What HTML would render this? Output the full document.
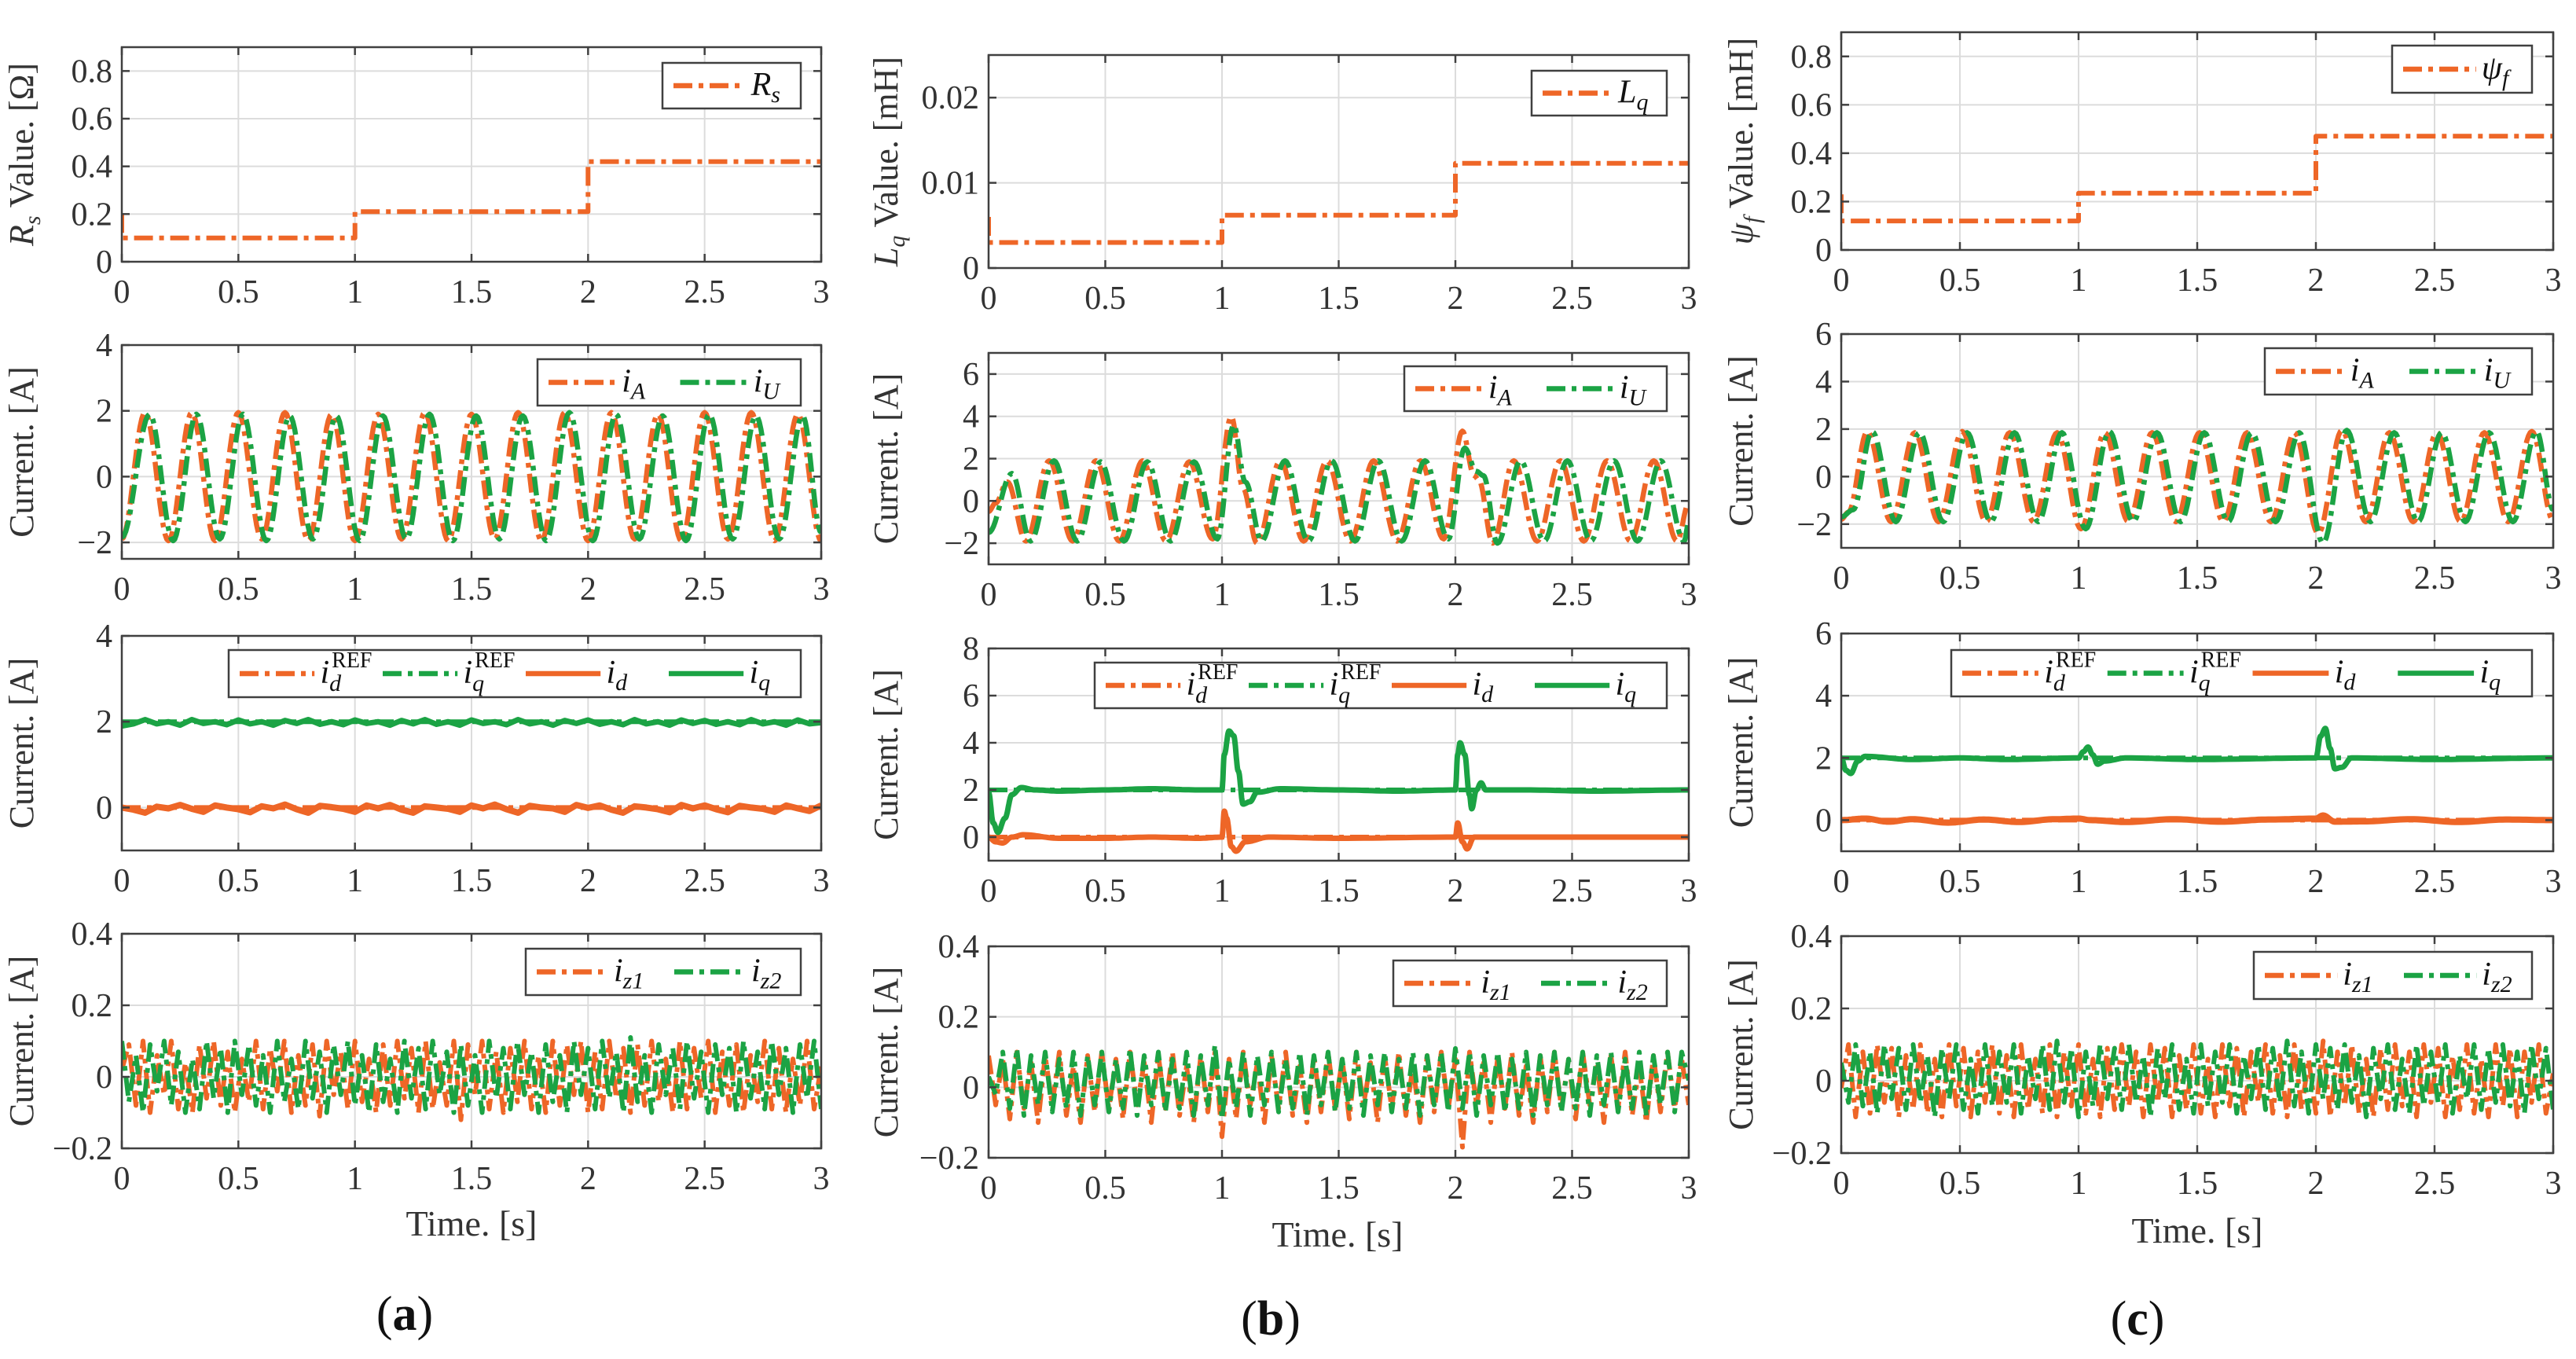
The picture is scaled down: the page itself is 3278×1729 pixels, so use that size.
<!DOCTYPE html>
<html><head><meta charset="utf-8"><style>
html,body{margin:0;padding:0;background:#fff;}
svg{display:block;font-family:"Liberation Serif",serif;}
</style></head><body>
<svg id="fig" width="3278" height="1729" viewBox="0 0 3278 1729"></svg>
<script>
// ---------- DATA ----------
const xTicks=[0,0.5,1,1.5,2,2.5,3];
const xTickLabels=["0","0.5","1","1.5","2","2.5","3"];
// parameter steps
const stepT=[0,0,0.002,1,1,2,2,3];
const rsV=[0.2,0.1,0.1,0.1,0.21,0.21,0.42,0.42];
const lqV=[0.006,0.003,0.003,0.003,0.0062,0.0062,0.0123,0.0123];
const psiV=[0.23,0.12,0.12,0.12,0.235,0.235,0.47,0.47];
// phase currents (extrema keypoints)
const a2AT=[0,0.1,0.2,0.3,0.4,0.5,0.6,0.7,0.8,0.9,1.0,1.1,1.2,1.3,1.4,1.5,1.6,1.7,1.8,1.9,2.0,2.1,2.2,2.3,2.4,2.5,2.6,2.7,2.8,2.9,3.0];
const a2AV=[-1.9,1.95,-1.95,1.95,-1.95,1.95,-1.9,1.95,-1.95,1.9,-1.95,1.9,-1.9,1.95,-1.95,1.9,-1.9,1.95,-1.95,1.95,-1.95,1.95,-1.9,1.9,-1.95,1.95,-1.9,1.95,-1.95,1.9,-1.95];
const a2UT=[0,0.12,0.22,0.32,0.42,0.52,0.62,0.72,0.82,0.92,1.02,1.12,1.22,1.32,1.42,1.52,1.62,1.72,1.82,1.92,2.02,2.12,2.22,2.32,2.42,2.52,2.62,2.72,2.82,2.92,3.0];
const a2UV=[-1.85,1.9,-1.95,1.9,-1.9,1.9,-1.95,1.85,-1.9,1.85,-1.95,1.85,-1.9,1.9,-1.95,1.85,-1.9,1.85,-1.95,1.95,-1.95,1.9,-1.9,1.85,-1.95,1.9,-1.9,1.85,-1.9,1.85,-1.7];
const b2AT=[0,0.03,0.08,0.16,0.26,0.36,0.46,0.56,0.66,0.76,0.86,0.96,1.04,1.09,1.15,1.25,1.35,1.45,1.55,1.65,1.75,1.85,1.95,2.03,2.08,2.1,2.16,2.25,2.35,2.45,2.55,2.65,2.75,2.85,2.95,3.0];
const b2AV=[-0.5,-0.1,0.9,-1.9,1.9,-1.9,1.9,-1.9,1.9,-1.9,1.85,-1.8,4.0,0.6,-2.0,1.9,-1.9,1.9,-1.9,1.9,-1.9,1.9,-1.8,3.3,1.2,1.0,-2.0,1.9,-1.9,1.9,-1.9,1.9,-1.9,1.9,-1.9,-0.1];
const b2UT=[0,0.1,0.18,0.28,0.38,0.48,0.58,0.68,0.78,0.88,0.98,1.05,1.1,1.17,1.27,1.37,1.47,1.57,1.67,1.77,1.87,1.97,2.04,2.09,2.12,2.18,2.28,2.38,2.48,2.58,2.68,2.78,2.88,2.98,3.0];
const b2UV=[-1.5,1.3,-1.9,1.9,-1.9,1.85,-1.9,1.85,-1.9,1.85,-1.8,3.6,0.9,-1.9,1.9,-1.9,1.9,-1.9,1.9,-1.9,1.9,-1.8,2.5,1.4,1.2,-2.0,1.9,-1.9,1.9,-1.9,1.9,-1.9,1.9,-1.9,-1.0];
const c2AT=[0,0.03,0.11,0.21,0.31,0.41,0.51,0.61,0.71,0.81,0.91,1.01,1.11,1.21,1.31,1.41,1.51,1.61,1.71,1.81,1.91,2.01,2.11,2.21,2.31,2.41,2.51,2.61,2.71,2.81,2.91,3.0];
const c2AV=[-1.8,-1.5,1.9,-1.9,1.85,-1.9,1.9,-1.9,1.85,-1.9,1.85,-2.2,1.85,-1.9,1.85,-1.9,1.85,-1.9,1.85,-1.9,1.85,-2.4,1.95,-1.9,1.85,-1.9,1.85,-1.9,1.85,-1.9,1.9,-1.85];
const c2UT=[0,0.05,0.13,0.23,0.33,0.43,0.53,0.63,0.73,0.83,0.93,1.03,1.13,1.23,1.33,1.43,1.53,1.63,1.73,1.83,1.93,2.03,2.13,2.23,2.33,2.43,2.53,2.63,2.73,2.83,2.93,3.0];
const c2UV=[-1.7,-1.4,1.9,-1.9,1.85,-1.9,1.85,-1.9,1.85,-1.9,1.85,-2.2,1.9,-1.9,1.85,-1.9,1.85,-1.9,1.85,-1.9,1.85,-2.8,1.95,-1.9,1.85,-1.9,1.85,-1.9,1.85,-1.9,1.9,-1.4];
// dq currents
const a3IqV=[1.9,1.95,2.05,1.95,2.0,1.92,2.05,1.96,2.0,1.93,2.04,1.95,2.0,1.92,2.03,1.96,2.05,1.94,2.0,1.93,2.04,1.96,2.0,1.92,2.03,1.95,2.05,1.94,2.0,1.92,2.04,1.96,2.0,1.93,2.05,1.95,2.0,1.92,2.03,1.96,2.04,1.94,2.0,1.93,2.05,1.95,2.0,1.92,2.04,1.96,2.03,1.94,2.0,1.93,2.05,1.95,2.0,1.92,2.04,1.95,1.98];
const a3IdV=[0.0,-0.05,-0.12,0.02,-0.02,0.06,-0.03,-0.1,0.05,0.0,-0.04,-0.11,0.03,-0.02,0.07,-0.04,-0.12,0.04,0.01,-0.03,-0.1,0.05,-0.02,0.06,-0.05,-0.12,0.03,0.0,-0.03,-0.1,0.05,-0.02,0.07,-0.04,-0.12,0.04,0.0,-0.02,-0.1,0.06,-0.01,0.05,-0.05,-0.12,0.03,0.0,-0.04,-0.11,0.06,-0.02,0.05,-0.04,-0.11,0.04,0.0,-0.03,-0.1,0.05,-0.02,-0.08,0.05];
const b3IqT=[0,0.02,0.04,0.07,0.1,0.14,0.2,0.3,0.5,0.7,0.9,1.0,1.01,1.03,1.05,1.07,1.09,1.12,1.15,1.25,1.5,1.75,2.0,2.01,2.02,2.04,2.06,2.07,2.09,2.11,2.13,2.3,2.6,3.0];
const b3IqV=[1.9,0.6,0.2,0.8,1.8,2.1,2.0,1.95,2.0,2.05,2.0,2.0,3.5,4.5,4.3,2.8,1.4,1.5,1.9,2.05,2.0,1.95,2.0,3.5,4.0,3.5,1.8,1.2,2.0,2.3,2.0,2.0,1.95,2.0];
const b3IdT=[0,0.03,0.06,0.1,0.15,0.3,0.5,0.7,0.9,1.0,1.01,1.02,1.04,1.06,1.1,1.2,1.5,2.0,2.01,2.03,2.05,2.08,2.3,2.6,3.0];
const b3IdV=[0,-0.2,-0.25,0,0.1,-0.05,-0.05,0,-0.05,0,1.1,0.8,-0.4,-0.6,-0.2,0,-0.05,0,0.6,-0.2,-0.5,0,0,0,0];
const c3IqT=[0,0.02,0.04,0.07,0.1,0.3,0.5,0.7,1.0,1.02,1.04,1.06,1.08,1.11,1.2,1.5,2.0,2.02,2.04,2.06,2.08,2.11,2.15,2.5,3.0];
const c3IqV=[2.0,1.6,1.5,1.9,2.05,1.95,2.0,1.95,2.0,2.2,2.35,2.1,1.8,1.9,2.0,1.95,2.0,2.7,2.95,2.3,1.65,1.7,2.0,1.95,2.0];
const c3IdT=[0,0.1,0.2,0.3,0.45,0.6,0.75,0.9,1.0,1.05,1.2,1.4,1.6,1.8,2.0,2.03,2.08,2.2,2.4,2.6,2.8,3.0];
const c3IdV=[0,0.05,-0.05,0.03,-0.08,0.02,-0.06,0.03,0.05,0.0,-0.06,0.03,-0.05,0.02,0.05,0.15,-0.05,-0.04,0.03,-0.06,0.02,0.0];
// zero-sequence currents (noisy)
const a4Z1=[0.02,0.09,-0.08,0.1,-0.1,0.06,-0.05,0.1,-0.09,0.04,-0.1,0.09,-0.06,0.1,-0.08,0.07,-0.1,0.05,-0.07,0.1,-0.09,0.08,-0.04,0.1,-0.1,0.06,-0.08,0.09,-0.11,0.1,-0.05,0.07,-0.09,0.1,-0.07,0.05,-0.1,0.09,-0.08,0.1,-0.06,0.08,-0.1,0.1,-0.09,0.04,-0.08,0.1,-0.12,0.09,-0.05,0.1,-0.09,0.07,-0.1,0.08,-0.07,0.1,-0.09,0.06,-0.1,0.1,-0.08,0.09,-0.05,0.1,-0.1,0.07,-0.09,0.1,-0.06,0.08,-0.1,0.09,-0.08,0.1,-0.07,0.05,-0.1,0.1,-0.09,0.08,-0.06,0.1,-0.1,0.07,-0.08,0.09,-0.1,0.06,-0.07,0.1,-0.09,0.08,-0.1,0.05,-0.08,0.1,-0.09,0.03];
const a4Z2=[0.1,-0.07,0.06,-0.1,0.09,-0.04,0.1,-0.08,0.07,-0.1,0.05,-0.09,0.1,-0.06,0.08,-0.1,0.1,-0.05,0.09,-0.08,0.06,-0.1,0.1,-0.07,0.05,-0.09,0.1,-0.06,0.07,-0.1,0.09,-0.05,0.1,-0.08,0.06,-0.1,0.09,-0.07,0.05,-0.1,0.1,-0.06,0.08,-0.09,0.1,-0.05,0.07,-0.1,0.09,-0.08,0.06,-0.1,0.1,-0.06,0.08,-0.09,0.1,-0.05,0.07,-0.1,0.09,-0.07,0.06,-0.1,0.1,-0.05,0.08,-0.09,0.1,-0.06,0.07,-0.1,0.11,-0.07,0.06,-0.1,0.09,-0.05,0.08,-0.09,0.1,-0.06,0.07,-0.1,0.09,-0.05,0.08,-0.1,0.1,-0.06,0.07,-0.09,0.1,-0.05,0.08,-0.1,0.09,-0.06,0.1,-0.09];
const b4Z1=[0.09,-0.05,0.08,-0.09,0.1,-0.06,0.07,-0.1,0.09,-0.05,0.1,-0.08,0.06,-0.1,0.09,-0.07,0.1,-0.06,0.08,-0.09,0.1,-0.05,0.07,-0.1,0.09,-0.06,0.1,-0.08,0.06,-0.1,0.09,-0.07,0.1,-0.14,0.08,-0.09,0.1,-0.05,0.07,-0.1,0.09,-0.06,0.1,-0.08,0.06,-0.1,0.09,-0.07,0.1,-0.06,0.08,-0.09,0.1,-0.05,0.07,-0.1,0.09,-0.06,0.1,-0.08,0.06,-0.1,0.09,-0.07,0.1,-0.06,0.08,-0.17,0.1,-0.05,0.07,-0.1,0.09,-0.06,0.1,-0.08,0.06,-0.1,0.09,-0.07,0.1,-0.06,0.08,-0.09,0.1,-0.05,0.07,-0.1,0.09,-0.06,0.1,-0.08,0.06,-0.1,0.09,-0.07,0.1,-0.06,0.08,-0.05];
const b4Z2=[0.03,-0.02,0.1,-0.06,0.11,-0.08,0.09,-0.05,0.1,-0.07,0.08,-0.06,0.1,-0.08,0.09,-0.05,0.1,-0.07,0.08,-0.06,0.11,-0.08,0.09,-0.05,0.1,-0.07,0.08,-0.06,0.1,-0.08,0.09,-0.05,0.12,-0.09,0.08,-0.06,0.1,-0.08,0.09,-0.05,0.1,-0.07,0.08,-0.06,0.1,-0.08,0.09,-0.05,0.1,-0.07,0.08,-0.06,0.1,-0.08,0.09,-0.05,0.1,-0.07,0.08,-0.06,0.1,-0.08,0.09,-0.05,0.1,-0.07,0.11,-0.06,0.1,-0.08,0.09,-0.05,0.1,-0.07,0.08,-0.06,0.1,-0.08,0.09,-0.05,0.1,-0.07,0.08,-0.06,0.1,-0.08,0.09,-0.05,0.1,-0.07,0.08,-0.06,0.1,-0.08,0.09,-0.05,0.1,-0.07,0.1,0.02];
const c4Z1=[-0.02,0.1,-0.1,0.08,-0.09,0.1,-0.06,0.09,-0.1,0.07,-0.08,0.1,-0.09,0.06,-0.1,0.1,-0.07,0.09,-0.1,0.08,-0.06,0.1,-0.09,0.07,-0.1,0.1,-0.08,0.06,-0.09,0.1,-0.1,0.08,-0.07,0.1,-0.09,0.06,-0.1,0.09,-0.08,0.1,-0.07,0.08,-0.1,0.1,-0.06,0.09,-0.1,0.07,-0.08,0.1,-0.09,0.06,-0.1,0.1,-0.07,0.09,-0.1,0.08,-0.06,0.1,-0.09,0.07,-0.1,0.1,-0.08,0.06,-0.09,0.11,-0.1,0.08,-0.07,0.1,-0.09,0.06,-0.1,0.09,-0.08,0.1,-0.07,0.08,-0.1,0.1,-0.06,0.09,-0.1,0.07,-0.08,0.1,-0.09,0.06,-0.1,0.1,-0.07,0.09,-0.1,0.08,-0.06,0.1,-0.09,0.02];
const c4Z2=[0.05,-0.06,0.1,-0.07,0.08,-0.09,0.1,-0.05,0.09,-0.08,0.1,-0.06,0.07,-0.1,0.09,-0.05,0.1,-0.08,0.06,-0.09,0.1,-0.07,0.08,-0.06,0.1,-0.09,0.07,-0.05,0.1,-0.08,0.11,-0.06,0.09,-0.1,0.08,-0.07,0.1,-0.05,0.09,-0.08,0.1,-0.06,0.07,-0.1,0.09,-0.05,0.1,-0.08,0.06,-0.09,0.1,-0.07,0.08,-0.06,0.1,-0.09,0.07,-0.05,0.1,-0.08,0.09,-0.06,0.11,-0.07,0.08,-0.09,0.1,-0.05,0.09,-0.08,0.1,-0.06,0.07,-0.1,0.09,-0.05,0.1,-0.08,0.06,-0.09,0.1,-0.07,0.08,-0.06,0.1,-0.09,0.07,-0.05,0.1,-0.08,0.09,-0.06,0.1,-0.07,0.08,-0.09,0.1,-0.05,0.09,-0.08];
// y tick values
const yT_a1=[0,0.2,0.4,0.6,0.8], yT_b1=[0,0.01,0.02], yT_c1=[0,0.2,0.4,0.6,0.8];
const yT_a2=[-2,0,2,4], yT_b2=[-2,0,2,4,6], yT_c2=[-2,0,2,4,6];
const yT_a3=[0,2,4], yT_b3=[0,2,4,6,8], yT_c3=[0,2,4,6];
const yT_z=[-0.2,0,0.2,0.4];
const yL_z=["\u22120.2","0","0.2","0.4"];

// ---------- DRAWING ----------
const NS="http://www.w3.org/2000/svg";
const svg=document.getElementById('fig');
const OR="#EE6627", GR="#1BA344";
const DASH="24 8 6 8";
function mk(tag,attrs,parent){const e=document.createElementNS(NS,tag);for(const k in attrs)e.setAttribute(k,attrs[k]);(parent||svg).appendChild(e);return e;}
function fmt(v){let s=String(v);if(v<0)s="\u2212"+String(-v);return s;}

function makeAxes(P){
  P.sx=t=>P.x0+(t-0)/(3-0)*(P.x1-P.x0);
  P.sy=v=>P.y1-(v-P.ymin)/(P.ymax-P.ymin)*(P.y1-P.y0);
  const g=mk('g',{});
  
  
  P.g=g;
  mk('rect',{x:P.x0,y:P.y0,width:P.x1-P.x0,height:P.y1-P.y0,fill:'#fff'},g);
  const grid=mk('g',{stroke:'#dcdcdc','stroke-width':2},g);
  
  
  xTicks.forEach(t=>{mk('line',{x1:P.sx(t),x2:P.sx(t),y1:P.y0,y2:P.y1},grid);});
  P.yt.forEach(v=>{mk('line',{x1:P.x0,x2:P.x1,y1:P.sy(v),y2:P.sy(v)},grid);});
  P.clip='clip_'+P.name;
  const cp=mk('clipPath',{id:P.clip},g);mk('rect',{x:P.x0,y:P.y0,width:P.x1-P.x0,height:P.y1-P.y0},cp);
}
function finishAxes(P){
  const g=P.g;
  mk('rect',{x:P.x0,y:P.y0,width:P.x1-P.x0,height:P.y1-P.y0,fill:'none',stroke:'#404040','stroke-width':2.5},g);
  const tk=mk('g',{stroke:'#404040','stroke-width':2.5},g);
  xTicks.forEach(t=>{mk('line',{x1:P.sx(t),x2:P.sx(t),y1:P.y1,y2:P.y1-10},tk);mk('line',{x1:P.sx(t),x2:P.sx(t),y1:P.y0,y2:P.y0+10},tk);});
  P.yt.forEach(v=>{mk('line',{x1:P.x0,x2:P.x0+10,y1:P.sy(v),y2:P.sy(v)},tk);mk('line',{x1:P.x1,x2:P.x1-10,y1:P.sy(v),y2:P.sy(v)},tk);});
  const xl=mk('g',{'font-size':42,fill:'#333','text-anchor':'middle'},g);
  
  
  xTicks.forEach((t,i)=>{const e=mk('text',{x:P.sx(t),y:P.y1+52},xl);e.textContent=xTickLabels[i];});
  const yl=mk('g',{'font-size':42,fill:'#333','text-anchor':'end'},g);
  
  
  P.yt.forEach((v,i)=>{const e=mk('text',{x:P.x0-12,y:P.sy(v)+14},yl);e.textContent=P.yl?P.yl[i]:fmt(v);});
  const yt=mk('text',{x:P.labx,y:(P.y0+P.y1)/2,'font-size':44,fill:'#333','text-anchor':'middle',transform:`rotate(-90 ${P.labx} ${(P.y0+P.y1)/2})`},g);
  
  
  yt.innerHTML=P.ylab;
}
function linePath(P,T,V){return T.map((t,i)=>(i?'L':'M')+P.sx(t).toFixed(1)+' '+P.sy(V[i]).toFixed(1)).join(' ');}
function cosPath(P,T,V){let d='M'+P.sx(T[0]).toFixed(1)+' '+P.sy(V[0]).toFixed(1);
  for(let i=1;i<T.length;i++){for(let k=1;k<=14;k++){const u=k/14,w=(1-Math.cos(Math.PI*u))/2;const t=T[i-1]+(T[i]-T[i-1])*u,v=V[i-1]+(V[i]-V[i-1])*w;d+=' L'+P.sx(t).toFixed(1)+' '+P.sy(v).toFixed(1);}}
  return d;}
function idxT(V){return V.map((v,i)=>i*3/(V.length-1));}
function series(P,d,color,dash,w,name){
  const e=mk('path',{d:d,fill:'none',stroke:color,'stroke-width':w,'stroke-dasharray':dash||'none','stroke-linejoin':'round','clip-path':`url(#${P.clip})`},P.g);
  
  
}
function legend(P,bx0,by0,bx1,by1,entries){
  const g=mk('g',{},P.g);
  
  
  mk('rect',{x:bx0,y:by0,width:bx1-bx0,height:by1-by0,fill:'#fff',stroke:'#404040','stroke-width':2.5},g);
  const w=(bx1-bx0)/entries.length, cy=(by0+by1)/2;
  entries.forEach((en,i)=>{
    const ex=bx0+i*w;
    const eg=mk('g',{},g);
    
    
    mk('line',{x1:ex+14,x2:ex+w*0.6,y1:cy,y2:cy,stroke:en[1],'stroke-width':6.5,'stroke-dasharray':en[2]||'none'},eg);
    const t=mk('text',{x:ex+w*0.64,y:cy+12,'font-size':42,fill:'#111','font-style':'italic'},eg);
    t.innerHTML=en[0];
  });
}
const SUB=s=>`<tspan dy="9" font-size="30">${s}</tspan>`;
const I_D_REF=`i<tspan dy="10" font-size="30">d</tspan><tspan dx="-12" dy="-30" font-size="28" font-style="normal">REF</tspan>`;
const I_Q_REF=`i<tspan dy="10" font-size="30">q</tspan><tspan dx="-12" dy="-30" font-size="28" font-style="normal">REF</tspan>`;

const cols=[{x0:155,x1:1045,lab:42},{x0:1258,x1:2149,lab:1142},{x0:2343,x1:3249,lab:2230}];
const rows=[[[60,333],[439,711],[809,1082],[1188,1461]],[[70,341],[449,718],[825,1095],[1204,1473]],[[41,318],[425,697],[806,1083],[1191,1467]]];
const cur='Current. [A]';
const panels=[
 {c:0,r:0,name:'panel-a-rs',ymin:0,ymax:0.9,yt:yT_a1,yl:["0","0.2","0.4","0.6","0.8"],ylab:'<tspan font-style="italic">R</tspan><tspan dy="9" font-size="30" font-style="italic">s</tspan><tspan dy="-9"> Value. [\u03A9]</tspan>'},
 {c:0,r:1,name:'panel-a-phase',ymin:-2.5,ymax:4,yt:yT_a2,ylab:cur},
 {c:0,r:2,name:'panel-a-dq',ymin:-1,ymax:4,yt:yT_a3,ylab:cur},
 {c:0,r:3,name:'panel-a-zero',ymin:-0.2,ymax:0.4,yt:yT_z,yl:yL_z,ylab:cur},
 {c:1,r:0,name:'panel-b-lq',ymin:0,ymax:0.025,yt:yT_b1,yl:["0","0.01","0.02"],ylab:'<tspan font-style="italic">L</tspan><tspan dy="9" font-size="30" font-style="italic">q</tspan><tspan dy="-9"> Value. [mH]</tspan>'},
 {c:1,r:1,name:'panel-b-phase',ymin:-3,ymax:7,yt:yT_b2,ylab:cur},
 {c:1,r:2,name:'panel-b-dq',ymin:-1,ymax:8,yt:yT_b3,ylab:cur},
 {c:1,r:3,name:'panel-b-zero',ymin:-0.2,ymax:0.4,yt:yT_z,yl:yL_z,ylab:cur},
 {c:2,r:0,name:'panel-c-psi',ymin:0,ymax:0.9,yt:yT_c1,yl:["0","0.2","0.4","0.6","0.8"],ylab:'<tspan font-style="italic">\u03C8</tspan><tspan dy="9" font-size="30" font-style="italic">f</tspan><tspan dy="-9"> Value. [mH]</tspan>'},
 {c:2,r:1,name:'panel-c-phase',ymin:-3,ymax:6,yt:yT_c2,ylab:cur},
 {c:2,r:2,name:'panel-c-dq',ymin:-1,ymax:6,yt:yT_c3,ylab:cur},
 {c:2,r:3,name:'panel-c-zero',ymin:-0.2,ymax:0.4,yt:yT_z,yl:yL_z,ylab:cur}
];
panels.forEach(P=>{P.x0=cols[P.c].x0;P.x1=cols[P.c].x1;P.labx=cols[P.c].lab;P.y0=rows[P.c][P.r][0];P.y1=rows[P.c][P.r][1];makeAxes(P);});
const [A1,A2,A3,A4,B1,B2,B3,B4,C1,C2,C3,C4]=panels;

series(A1,linePath(A1,stepT,rsV),OR,DASH,6,'rs-line');
series(B1,linePath(B1,stepT,lqV),OR,DASH,6,'lq-line');
series(C1,linePath(C1,stepT,psiV),OR,DASH,6,'psi-line');
series(A2,cosPath(A2,a2AT,a2AV),OR,DASH,6.5,'ia-line');
series(A2,cosPath(A2,a2UT,a2UV),GR,DASH,6.5,'iu-line');
series(B2,cosPath(B2,b2AT,b2AV),OR,DASH,6.5,'ia-line');
series(B2,cosPath(B2,b2UT,b2UV),GR,DASH,6.5,'iu-line');
series(C2,cosPath(C2,c2AT,c2AV),OR,DASH,6.5,'ia-line');
series(C2,cosPath(C2,c2UT,c2UV),GR,DASH,6.5,'iu-line');
[[A3],[B3],[C3]].forEach(([P])=>{
  series(P,linePath(P,[0,3],[0,0]),OR,DASH,6,'id-ref-line');
  series(P,linePath(P,[0,3],[2,2]),GR,DASH,6,'iq-ref-line');
});
series(A3,linePath(A3,idxT(a3IdV),a3IdV),OR,'none',8,'id-line');
series(A3,linePath(A3,idxT(a3IqV),a3IqV),GR,'none',7,'iq-line');
series(B3,cosPath(B3,b3IdT,b3IdV),OR,'none',7,'id-line');
series(B3,cosPath(B3,b3IqT,b3IqV),GR,'none',7,'iq-line');
series(C3,cosPath(C3,c3IdT,c3IdV),OR,'none',8,'id-line');
series(C3,cosPath(C3,c3IqT,c3IqV),GR,'none',7,'iq-line');
series(A4,linePath(A4,idxT(a4Z1),a4Z1),OR,DASH,6,'iz1-line');
series(A4,linePath(A4,idxT(a4Z2),a4Z2),GR,DASH,6,'iz2-line');
series(B4,linePath(B4,idxT(b4Z1),b4Z1),OR,DASH,6,'iz1-line');
series(B4,linePath(B4,idxT(b4Z2),b4Z2),GR,DASH,6,'iz2-line');
series(C4,linePath(C4,idxT(c4Z1),c4Z1),OR,DASH,6,'iz1-line');
series(C4,linePath(C4,idxT(c4Z2),c4Z2),GR,DASH,6,'iz2-line');

panels.forEach(finishAxes);

legend(A1,843,80,1019,138,[['R'+SUB('s'),OR,DASH]]);
legend(B1,1949,90,2121,147,[['L'+SUB('q'),OR,DASH]]);
legend(C1,3044,58,3222,118,[['\u03C8'+SUB('f'),OR,DASH]]);
legend(A2,684,457,1019,516,[['i'+SUB('A'),OR,DASH],['i'+SUB('U'),GR,DASH]]);
legend(B2,1787,466,2121,523,[['i'+SUB('A'),OR,DASH],['i'+SUB('U'),GR,DASH]]);
legend(C2,2882,443,3222,502,[['i'+SUB('A'),OR,DASH],['i'+SUB('U'),GR,DASH]]);
const dqE=[[I_D_REF,OR,DASH],[I_Q_REF,GR,DASH],['i'+SUB('d'),OR,''],['i'+SUB('q'),GR,'']];
legend(A3,291,827,1019,887,dqE);
legend(B3,1393,843,2121,901,dqE);
legend(C3,2483,827,3222,886,dqE);
const zE=[['i'+SUB('z1'),OR,DASH],['i'+SUB('z2'),GR,DASH]];
legend(A4,669,1207,1019,1266,zE);
legend(B4,1773,1222,2121,1280,zE);
legend(C4,2868,1211,3222,1271,zE);

[[600,1572],[1702,1586],[2796,1581]].forEach(([x,y])=>{
  const t=mk('text',{x:x,y:y,'font-size':46,fill:'#333','text-anchor':'middle'});
  
  
  t.textContent='Time. [s]';
});
[[515,1692,'a'],[1617,1698,'b'],[2720,1698,'c']].forEach(([x,y,l])=>{
  const t=mk('text',{x:x,y:y,'font-size':62,fill:'#111','text-anchor':'middle'});
  
  
  t.innerHTML=`(<tspan font-weight="bold">${l}</tspan>)`;
});
</script>
</body></html>
